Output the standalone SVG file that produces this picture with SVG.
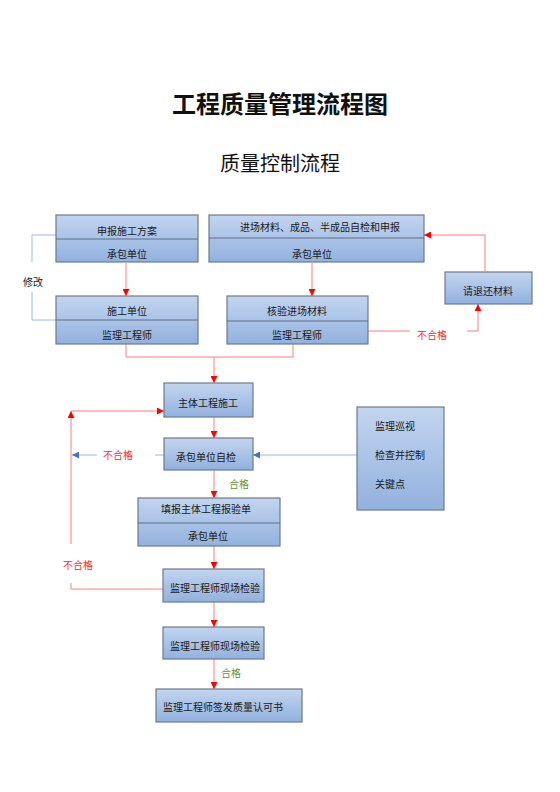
<svg xmlns="http://www.w3.org/2000/svg" width="560" height="792" viewBox="0 0 560 792">
<defs>
<linearGradient id="g" x1="0" y1="0" x2="0" y2="1">
<stop offset="0" stop-color="#c2d5ef"/>
<stop offset="1" stop-color="#92b1de"/>
</linearGradient>
<marker id="ar" viewBox="0 0 8 8" refX="8" refY="4" markerWidth="7" markerHeight="7" markerUnits="userSpaceOnUse" orient="auto">
<path d="M0,0 L8,4 L0,8 z" fill="#ff0000"/>
</marker>
<marker id="ab" viewBox="0 0 8 8" refX="8" refY="4" markerWidth="7" markerHeight="7" markerUnits="userSpaceOnUse" orient="auto">
<path d="M0,0 L8,4 L0,8 z" fill="#4472c4"/>
</marker>
</defs>
<style>
.box{fill:url(#g);stroke:#6b7a8e;stroke-width:1.2}
.div{stroke:#5f6f85;stroke-width:1}
.t{font-family:"Noto Sans CJK SC","Noto Sans",sans-serif;font-size:10px;fill:#1a1a1a;text-anchor:middle}
.tl{font-family:"Noto Sans CJK SC","Noto Sans",sans-serif;font-size:10px;fill:#1a1a1a}
.red{stroke:#ff7a7a;stroke-width:1;fill:none}
.blue{stroke:#9ab6e6;stroke-width:1;fill:none}
.lr{font-family:"Noto Sans CJK SC","Noto Sans",sans-serif;font-size:10px;fill:#ff2a2a;text-anchor:middle}
.lg{font-family:"Noto Sans CJK SC","Noto Sans",sans-serif;font-size:10px;fill:#5e9440;text-anchor:middle}
.ll{font-family:"Noto Sans CJK SC","Noto Sans",sans-serif;font-size:10px;fill:#1a1a1a;text-anchor:middle}
</style>
<rect width="560" height="792" fill="#ffffff"/>
<text x="280" y="112.5" font-family="'Noto Sans CJK SC','Noto Sans',sans-serif" font-size="24" font-weight="bold" text-anchor="middle" fill="#111">工程质量管理流程图</text>
<text x="280" y="171" font-family="'Noto Sans CJK SC','Noto Sans',sans-serif" font-size="20" text-anchor="middle" fill="#111">质量控制流程</text>

<g id="connectors">
<path class="red" d="M126,263 V296" marker-end="url(#ar)"/>
<path class="red" d="M312,263 V296" marker-end="url(#ar)"/>
<path class="red" d="M126,344 V357 H293 M293,344 V357"/>
<path class="red" d="M214,357 V383" marker-end="url(#ar)"/>
<path class="red" d="M214,417 V438" marker-end="url(#ar)"/>
<path class="red" d="M214,470 V498" marker-end="url(#ar)"/>
<path class="red" d="M214,546 V569" marker-end="url(#ar)"/>
<path class="red" d="M214,602 V627" marker-end="url(#ar)"/>
<path class="red" d="M214,659 V689" marker-end="url(#ar)"/>
<path class="red" d="M163,589 H71 V583"/>
<path class="red" d="M71,544 V411" marker-end="url(#ar)"/>
<path class="red" d="M71,411 H164" marker-end="url(#ar)"/>
<path class="red" d="M368,331 H410"/>
<path class="red" d="M467,331 H478 V304" marker-end="url(#ar)"/>
<path class="red" d="M485,271 V235 H424" marker-end="url(#ar)"/>
<path class="blue" d="M56,235 H32 V262 M32,292 V320 H56"/>
<path class="blue" d="M164,455 H155"/>
<path class="blue" d="M97,455 H72" marker-end="url(#ab)"/>
<path class="blue" d="M357,455 H253" marker-end="url(#ab)"/>
<text class="ll" x="33" y="285.5">修改</text>
<text class="lr" x="432" y="339">不合格</text>
<text class="lr" x="118" y="458.5">不合格</text>
<text class="lr" x="78" y="568.5">不合格</text>
<text class="lg" x="239" y="487.5">合格</text>
<text class="lg" x="231" y="676.5">合格</text>
</g>

<g id="n1">
<rect class="box" x="56" y="215" width="142" height="47"/>
<line class="div" x1="56" y1="239" x2="198" y2="239"/>
<text class="t" x="127" y="234.5">申报施工方案</text>
<text class="t" x="127" y="257.5">承包单位</text>
</g>
<g id="n2">
<rect class="box" x="56" y="296" width="142" height="48"/>
<line class="div" x1="56" y1="320" x2="198" y2="320"/>
<text class="t" x="127" y="314.5">施工单位</text>
<text class="t" x="127" y="338.5">监理工程师</text>
</g>
<g id="n3">
<rect class="box" x="209" y="215" width="215" height="47"/>
<line class="div" x1="209" y1="238" x2="424" y2="238"/>
<text class="t" x="320" y="231">进场材料、成品、半成品自检和申报</text>
<text class="t" x="312" y="257.5">承包单位</text>
</g>
<g id="n4">
<rect class="box" x="227" y="296" width="141" height="48"/>
<line class="div" x1="227" y1="321" x2="368" y2="321"/>
<text class="t" x="297" y="314.5">核验进场材料</text>
<text class="t" x="297" y="338.5">监理工程师</text>
</g>
<g id="n5">
<rect class="box" x="445" y="272" width="87" height="32"/>
<text class="t" x="488" y="294.5">请退还材料</text>
</g>
<g id="n6">
<rect class="box" x="164" y="383" width="89" height="34"/>
<text class="t" x="208" y="406.5">主体工程施工</text>
</g>
<g id="n7">
<rect class="box" x="164" y="438" width="89" height="32"/>
<text class="t" x="206" y="460.5">承包单位自检</text>
</g>
<g id="n8">
<rect class="box" x="357" y="407" width="87" height="103"/>
<text class="tl" x="375" y="429.5">监理巡视</text>
<text class="tl" x="375" y="458.5">检查并控制</text>
<text class="tl" x="375" y="487.5">关键点</text>
</g>
<g id="n9">
<rect class="box" x="138" y="498" width="142" height="48"/>
<line class="div" x1="138" y1="523" x2="280" y2="523"/>
<text class="t" x="206" y="512.5">填报主体工程报验单</text>
<text class="t" x="208" y="539.5">承包单位</text>
</g>
<g id="n10">
<rect class="box" x="163" y="569" width="101" height="33"/>
<text class="t" x="215" y="592">监理工程师现场检验</text>
</g>
<g id="n11">
<rect class="box" x="163" y="627" width="101" height="32"/>
<text class="t" x="215" y="650">监理工程师现场检验</text>
</g>
<g id="n12">
<rect class="box" x="156" y="689" width="146" height="33"/>
<text class="tl" x="163" y="711">监理工程师签发质量认可书</text>
</g>
</svg>
